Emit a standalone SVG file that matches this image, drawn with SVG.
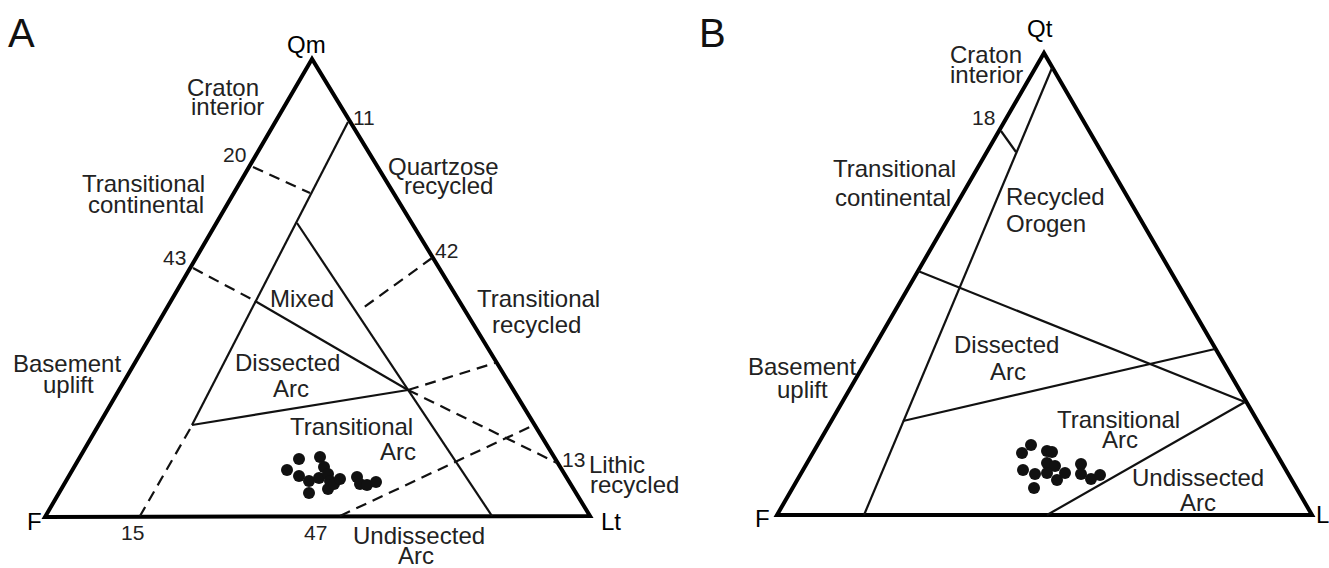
<svg xmlns="http://www.w3.org/2000/svg" width="1329" height="568" viewBox="0 0 1329 568">
<style>
text{font-family:"Liberation Sans",Arial,sans-serif;fill:#222}
.lbl{font-size:24px}
.num{font-size:21px}
.vtx{font-size:24px;fill:#000}
.big{font-size:40px;fill:#111}
.frame{fill:none;stroke:#000;stroke-width:4;stroke-linejoin:miter}
.ln{fill:none;stroke:#111;stroke-width:2.2}
.dash{fill:none;stroke:#111;stroke-width:2.2;stroke-dasharray:11 7}
.dot{fill:#111}
</style>
<rect width="1329" height="568" fill="#fff"/>

<g id="panel-a">
  <text class="big" x="8" y="47">A</text>
  <g id="a-frame">
    <polygon class="frame" points="312,59 45,517 590,516"/>
  </g>
  <g id="a-connectors">
    <line class="dash" x1="253" y1="167" x2="310" y2="193"/>
    <line class="ln" x1="348" y1="122" x2="192" y2="425"/>
    <line class="dash" x1="190" y1="429" x2="140" y2="516"/>
    <line class="ln" x1="297" y1="223" x2="492" y2="516"/>
    <line class="dash" x1="193" y1="268" x2="255" y2="301"/>
    <line class="ln" x1="255" y1="301" x2="408" y2="390"/>
    <line class="dash" x1="408" y1="390" x2="557" y2="463"/>
    <line class="dash" x1="432" y1="258" x2="363" y2="308"/>
    <line class="ln" x1="192" y1="425" x2="408" y2="390"/>
    <line class="dash" x1="408" y1="390" x2="495" y2="363"/>
    <line class="dash" x1="340" y1="516" x2="534" y2="425"/>
  </g>
  <g id="a-labels">
    <text class="vtx" x="287" y="53">Qm</text>
    <text class="vtx" x="27" y="530">F</text>
    <text class="vtx" x="601" y="530">Lt</text>
    <text class="lbl" x="187" y="96">Craton</text>
    <text class="lbl" x="191" y="115">interior</text>
    <text class="num" x="223" y="162">20</text>
    <text class="lbl" x="82" y="192">Transitional</text>
    <text class="lbl" x="88" y="213">continental</text>
    <text class="num" x="163" y="265">43</text>
    <text class="lbl" x="13" y="372">Basement</text>
    <text class="lbl" x="43" y="393">uplift</text>
    <text class="num" x="121" y="540">15</text>
    <text class="num" x="304" y="540">47</text>
    <text class="num" x="353" y="125">11</text>
    <text class="lbl" x="388" y="175">Quartzose</text>
    <text class="lbl" x="404" y="194">recycled</text>
    <text class="num" x="435" y="258">42</text>
    <text class="lbl" x="477" y="307">Transitional</text>
    <text class="lbl" x="492" y="333">recycled</text>
    <text class="num" x="562" y="467">13</text>
    <text class="lbl" x="589" y="473">Lithic</text>
    <text class="lbl" x="590" y="493">recycled</text>
    <text class="lbl" x="270" y="307">Mixed</text>
    <text class="lbl" x="235" y="371">Dissected</text>
    <text class="lbl" x="273" y="397">Arc</text>
    <text class="lbl" x="290" y="435">Transitional</text>
    <text class="lbl" x="380" y="460">Arc</text>
    <text class="lbl" x="353" y="544">Undissected</text>
    <text class="lbl" x="398" y="564">Arc</text>
  </g>
  <g id="a-data">
    <circle class="dot" cx="287" cy="470" r="6"/>
    <circle class="dot" cx="299" cy="459" r="6"/>
    <circle class="dot" cx="320" cy="457" r="6"/>
    <circle class="dot" cx="299" cy="476" r="6"/>
    <circle class="dot" cx="309" cy="481" r="6"/>
    <circle class="dot" cx="309" cy="493" r="6"/>
    <circle class="dot" cx="319" cy="478" r="6"/>
    <circle class="dot" cx="324" cy="467" r="6"/>
    <circle class="dot" cx="328" cy="474" r="6"/>
    <circle class="dot" cx="330" cy="481" r="6"/>
    <circle class="dot" cx="328" cy="489" r="6"/>
    <circle class="dot" cx="334" cy="484" r="6"/>
    <circle class="dot" cx="340" cy="479" r="6"/>
    <circle class="dot" cx="357" cy="477" r="6"/>
    <circle class="dot" cx="360" cy="484" r="6"/>
    <circle class="dot" cx="367" cy="485" r="6"/>
    <circle class="dot" cx="376" cy="482" r="6"/>
  </g>
</g>

<g id="panel-b">
  <text class="big" x="699" y="47">B</text>
  <g id="b-frame">
    <polygon class="frame" points="1044,53 777,515 1312,515"/>
  </g>
  <g id="b-connectors">
    <line class="ln" x1="1052" y1="68" x2="864" y2="515"/>
    <line class="ln" x1="1001" y1="131" x2="1016" y2="152"/>
    <line class="ln" x1="918" y1="271" x2="1245" y2="402"/>
    <line class="ln" x1="903" y1="421" x2="1215" y2="349"/>
    <line class="ln" x1="1047" y1="515" x2="1245" y2="402"/>
  </g>
  <g id="b-labels">
    <text class="vtx" x="1027" y="37">Qt</text>
    <text class="vtx" x="755" y="527">F</text>
    <text class="vtx" x="1316" y="523">L</text>
    <text class="lbl" x="950" y="63">Craton</text>
    <text class="lbl" x="950" y="83">interior</text>
    <text class="num" x="972" y="125">18</text>
    <text class="lbl" x="833" y="177">Transitional</text>
    <text class="lbl" x="835" y="206">continental</text>
    <text class="lbl" x="1006" y="205">Recycled</text>
    <text class="lbl" x="1006" y="232">Orogen</text>
    <text class="lbl" x="748" y="375">Basement</text>
    <text class="lbl" x="777" y="398">uplift</text>
    <text class="lbl" x="954" y="353">Dissected</text>
    <text class="lbl" x="990" y="380">Arc</text>
    <text class="lbl" x="1057" y="428">Transitional</text>
    <text class="lbl" x="1102" y="448">Arc</text>
    <text class="lbl" x="1132" y="486">Undissected</text>
    <text class="lbl" x="1180" y="511">Arc</text>
  </g>
  <g id="b-data">
    <circle class="dot" cx="1022" cy="453" r="6"/>
    <circle class="dot" cx="1031" cy="445" r="6"/>
    <circle class="dot" cx="1047" cy="451" r="6"/>
    <circle class="dot" cx="1052" cy="452" r="6"/>
    <circle class="dot" cx="1023" cy="470" r="6"/>
    <circle class="dot" cx="1035" cy="474" r="6"/>
    <circle class="dot" cx="1047" cy="463" r="6"/>
    <circle class="dot" cx="1055" cy="466" r="6"/>
    <circle class="dot" cx="1047" cy="473" r="6"/>
    <circle class="dot" cx="1057" cy="480" r="6"/>
    <circle class="dot" cx="1065" cy="473" r="6"/>
    <circle class="dot" cx="1034" cy="488" r="6"/>
    <circle class="dot" cx="1081" cy="464" r="6"/>
    <circle class="dot" cx="1081" cy="474" r="6"/>
    <circle class="dot" cx="1091" cy="479" r="6"/>
    <circle class="dot" cx="1100" cy="475" r="6"/>
  </g>
</g>
</svg>
